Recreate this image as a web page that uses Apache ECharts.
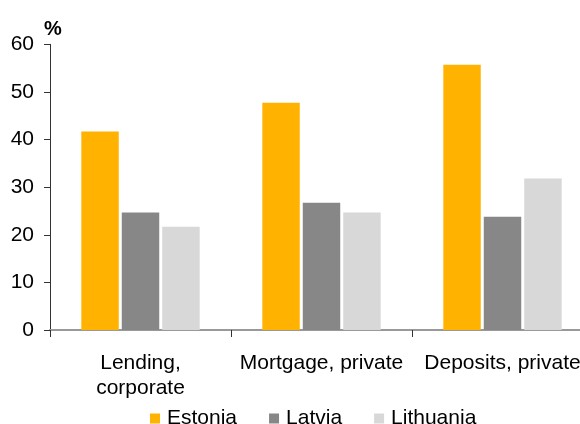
<!DOCTYPE html>
<html>
<head>
<meta charset="utf-8">
<script src="https://cdn.jsdelivr.net/npm/echarts@6/dist/echarts.min.js"></script>
<style>html,body{margin:0;padding:0;background:#fff;}#c{width:580px;height:424px;}</style>
</head>
<body>
<div id="c"></div>
<script>
const categories = ['Lending,\ncorporate', 'Mortgage, private', 'Deposits, private'];
const estonia = [41.7, 47.7, 55.7];
const latvia = [24.7, 26.7, 23.8];
const lithuania = [21.7, 24.7, 31.8];
const yTicks = [0, 10, 20, 30, 40, 50, 60];

const font = '"Liberation Sans", Arial, sans-serif';
const chart = echarts.init(document.getElementById('c'), null, {renderer: 'canvas'});
chart.setOption({
  animation: false,
  title: {text: '%', left: 44, top: 19, padding: 0,
    textStyle: {fontFamily: font, fontSize: 20, fontWeight: 'bold', color: '#000'}},
  grid: {left: 50, top: 44.3, right: -13, bottom: 94, containLabel: false, outerBoundsMode: 'none'},
  legend: {
    left: 145, top: 403, itemWidth: 10, itemHeight: 10, itemGap: 32,
    icon: 'rect',
    textStyle: {fontFamily: font, fontSize: 21, color: '#000', padding: [0, 0, 0, 2]},
    data: ['Estonia', 'Latvia', 'Lithuania']
  },
  xAxis: {
    type: 'category', data: categories,
    axisLine: {lineStyle: {color: '#999', width: 2}},
    axisTick: {show: true, length: 7, lineStyle: {color: '#333', width: 1}},
    axisLabel: {fontFamily: font, fontSize: 21, color: '#000', margin: 21, lineHeight: 25, interval: 0}
  },
  yAxis: {
    type: 'value', min: 0, max: 60, interval: 10,
    axisLine: {show: true, lineStyle: {color: '#333', width: 1}},
    axisTick: {show: true, length: 6, lineStyle: {color: '#333'}},
    splitLine: {show: false},
    axisLabel: {fontFamily: font, fontSize: 21, color: '#000', margin: 16,
      formatter: v => yTicks.includes(v) ? String(v) : ''}
  },
  series: [
    {name: 'Estonia', type: 'bar', data: estonia, barWidth: '20.7%', barGap: '8%', barCategoryGap: '34.5%',
      itemStyle: {color: '#FFB300'}},
    {name: 'Latvia', type: 'bar', data: latvia, barWidth: '20.7%', barGap: '8%',
      itemStyle: {color: '#878787'}},
    {name: 'Lithuania', type: 'bar', data: lithuania, barWidth: '20.7%', barGap: '8%',
      itemStyle: {color: '#D8D8D8'}}
  ]
});
</script>
</body>
</html>
